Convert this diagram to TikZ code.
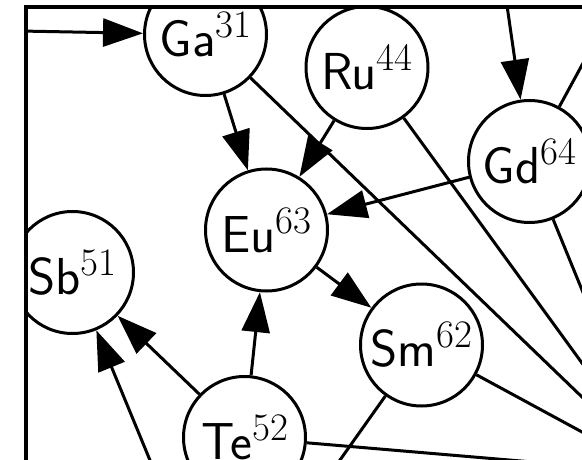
\documentclass[tikz,border=0pt]{standalone}
\usetikzlibrary{arrows.meta}
\newcommand{\elsup}[1]{\raisebox{19pt}{\fontsize{39}{44}\selectfont\rmfamily #1}}
\begin{document}
\begin{tikzpicture}[x=1pt,y=-1pt,
  elem/.style={circle,draw,line width=3pt,minimum size=122pt,inner sep=0pt,
    font=\fontsize{52}{62}\selectfont\sffamily},
  edge/.style={line width=3pt},
  arr/.style={edge,-{Triangle[length=40pt,width=28pt]}}]
\useasboundingbox (0,0) rectangle (582,460);
\begin{scope}
\clip (26,7) rectangle (800,700);
\node[elem] (Ga) at (205.5,34.5) {Ga\elsup{31}};
\node[elem] (Ru) at (367,67.5) {Ru\elsup{44}};
\node[elem] (Gd) at (529.5,161.5) {Gd\elsup{64}};
\node[elem] (Eu) at (266.5,230) {Eu\elsup{63}};
\node[elem] (Sb) at (72.5,272.5) {Sb\elsup{51}};
\node[elem] (Sm) at (421.5,345) {Sm\elsup{62}};
\node[elem] (Te) at (244.5,437.5) {Te\elsup{52}};
\coordinate (wL) at (-60,29.5);
\coordinate (nT) at (499,-50);
\coordinate (nTR) at (629.3,-21.9);
\coordinate (fGa) at (657.3,469.5);
\coordinate (fRu) at (689.5,510.8);
\coordinate (fGd) at (608.3,354.3);
\coordinate (fSm) at (662.3,475.5);
\coordinate (fSm2) at (319.6,488.8);
\coordinate (fTe) at (773.5,482.5);
\coordinate (fSb) at (173,516);
\draw[arr] (wL) -- (Ga);
\draw[arr] (nT) -- (Gd);
\draw[arr] (Ga) -- (Eu);
\draw[arr] (Ru) -- (Eu);
\draw[arr] (Gd) -- (Eu);
\draw[arr] (Eu) -- (Sm);
\draw[arr] (Te) -- (Eu);
\draw[arr] (Te) -- (Sb);
\draw[arr] (fSb) -- (Sb);
\draw[edge] (Gd) -- (nTR);
\draw[edge] (Ga) -- (fGa);
\draw[edge] (Ru) -- (fRu);
\draw[edge] (Gd) -- (fGd);
\draw[edge] (Sm) -- (fSm);
\draw[edge] (Sm) -- (fSm2);
\draw[edge] (Te) -- (fTe);
\end{scope}
\draw[line width=3.5pt] (26,480) -- (26,7) -- (600,7);
\end{tikzpicture}
\end{document}
